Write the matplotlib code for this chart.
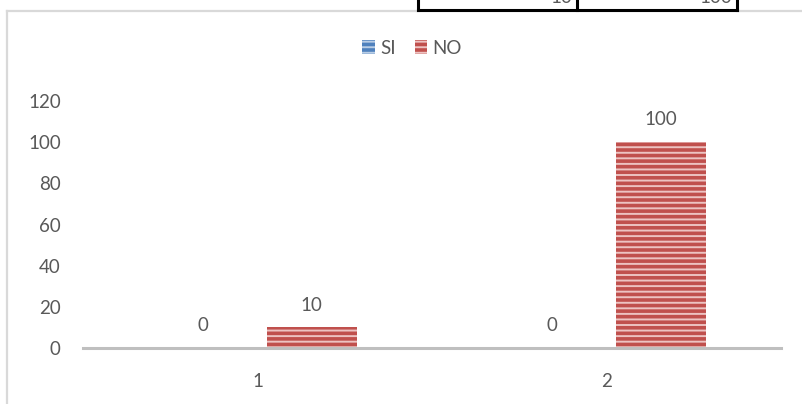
import matplotlib
matplotlib.use("Agg")
import matplotlib.pyplot as plt
from matplotlib.patches import Rectangle
from matplotlib.lines import Line2D
import numpy as np

categories = ["1", "2"]
si_values = [0, 0]
no_values = [10, 100]
series_names = ["SI", "NO"]
y_ticks = [0, 20, 40, 60, 80, 100, 120]
table_values = ["10", "100"]

W, H = 802, 404
plt.rcParams["font.family"] = ["Lato", "DejaVu Sans"]
plt.rcParams["hatch.linewidth"] = 1.4

fig = plt.figure(figsize=(W / 100, H / 100), dpi=100)

def fx(px):
    return px / W

def fy(py):
    return 1 - py / H

FS = 13.5
grey_txt = "#595959"
blue = "#4F81BD"
red = "#C0504D"

# chart frame (runs off the right and bottom edges)
fig.add_artist(Line2D([fx(6.5), fx(6.5)], [fy(10.5), fy(410)], color="#D9D9D9", lw=1.6))
fig.add_artist(Line2D([fx(6.5), fx(810)], [fy(10.5), fy(10.5)], color="#D9D9D9", lw=1.6))

# fragment of the table sitting above the chart
box_x = [418, 577, 737]
fig.add_artist(Rectangle((fx(box_x[0]), fy(9.5)), fx(box_x[2]) - fx(box_x[0]), 0.2,
                         transform=fig.transFigure, facecolor="white", edgecolor="none"))
fig.add_artist(Line2D([fx(box_x[0]), fx(box_x[2])], [fy(9.5), fy(9.5)], color="black", lw=2.2))
for bx in box_x:
    fig.add_artist(Line2D([fx(bx), fx(bx)], [fy(-5), fy(9.5)], color="black", lw=2.2))
fig.text(fx(572), fy(3), table_values[0], ha="right", va="baseline", fontsize=FS, color=grey_txt)
fig.text(fx(732), fy(3), table_values[1], ha="right", va="baseline", fontsize=FS, color=grey_txt)

ax = fig.add_axes([fx(83), fy(348), fx(781) - fx(83), fy(101) - fy(348)])
x = np.arange(len(categories))
width = 0.258
offset = 0.155

bars_si = ax.bar(x - offset, si_values, width, facecolor=blue, edgecolor="#B9CDE5",
                 hatch="---", linewidth=0, label=series_names[0])
bars_no = ax.bar(x + offset, no_values, width, facecolor=red, edgecolor="#EDC3C2",
                 hatch="---", linewidth=0, label=series_names[1])

for bars, vals in ((bars_si, si_values), (bars_no, no_values)):
    for b, v in zip(bars, vals):
        ax.annotate(f"{v}", (b.get_x() + b.get_width() / 2, v), xytext=(0, 10),
                    textcoords="offset points", ha="center", va="bottom",
                    fontsize=FS, color=grey_txt)

ax.set_xlim(-0.5, len(categories) - 0.5)
ax.set_ylim(0, 120)
ax.set_yticks(y_ticks)
ax.set_xticks(x)
ax.set_xticklabels(categories)
ax.tick_params(axis="y", length=0, pad=16, labelsize=FS, labelcolor=grey_txt)
ax.tick_params(axis="x", length=0, pad=18, labelsize=FS, labelcolor=grey_txt)
for s in ("left", "right", "top"):
    ax.spines[s].set_visible(False)
ax.spines["bottom"].set_color("#BFBFBF")
ax.spines["bottom"].set_linewidth(2.2)
ax.set_facecolor("none")

fig.legend(handles=[bars_si, bars_no], labels=series_names, loc="center",
           bbox_to_anchor=(fx(412), fy(48)), ncol=2, frameon=False, fontsize=FS,
           handlelength=0.65, handleheight=0.75, handletextpad=0.3, columnspacing=1.0,
           labelcolor=grey_txt)

fig.savefig("out.png", dpi=100)
